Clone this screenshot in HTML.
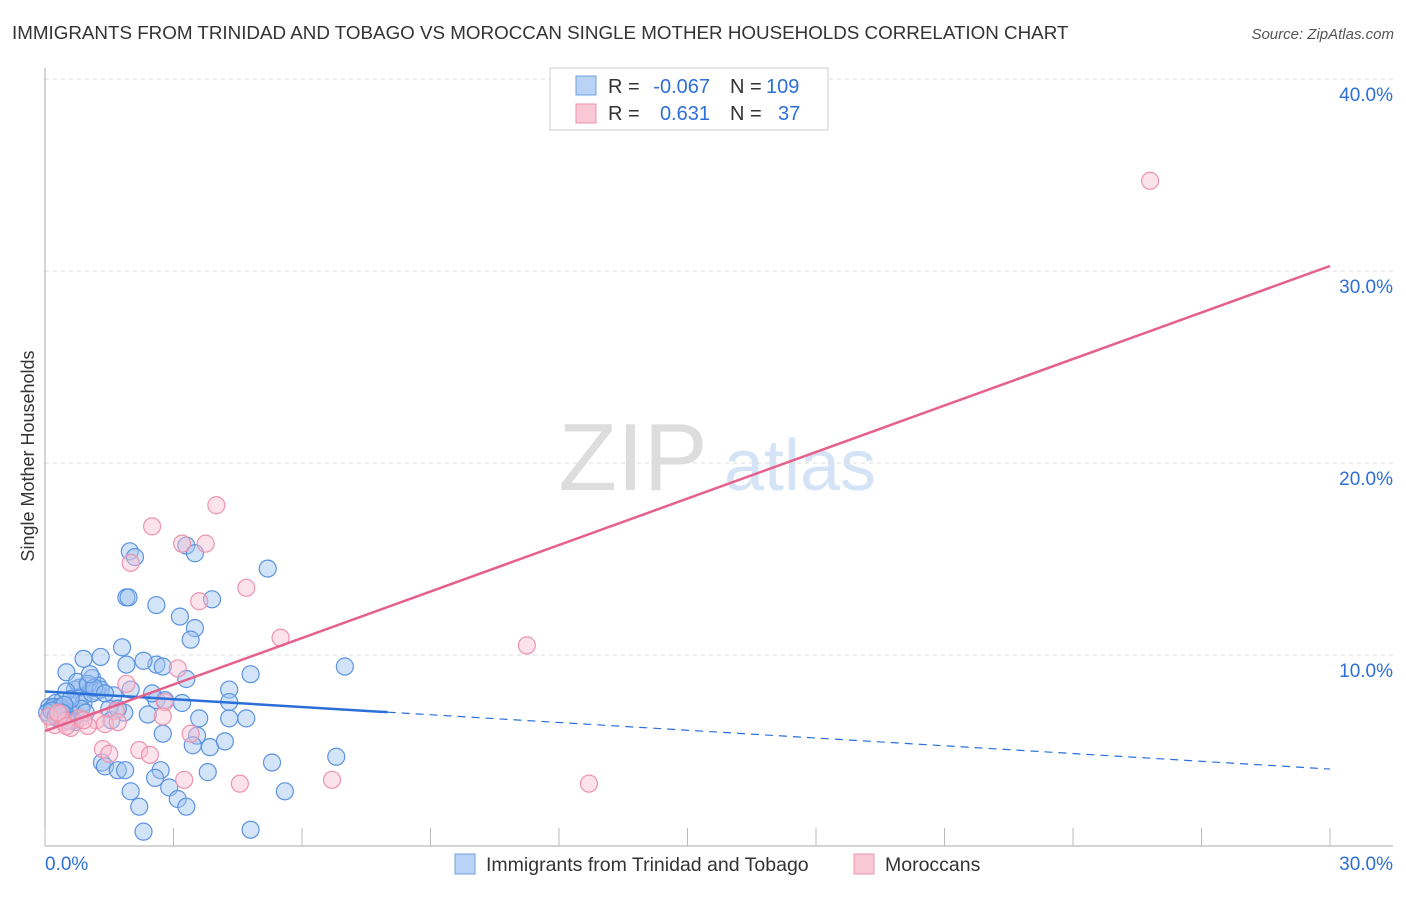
<!DOCTYPE html>
<html><head><meta charset="utf-8"><style>
body{margin:0;background:#fff;font-family:"Liberation Sans",sans-serif;}
svg text{font-family:"Liberation Sans",sans-serif;}
</style></head><body>
<svg id="c" width="1406" height="892">
<text x="12" y="39" font-size="18.8" fill="#333">IMMIGRANTS FROM TRINIDAD AND TOBAGO VS MOROCCAN SINGLE MOTHER HOUSEHOLDS CORRELATION CHART</text>
<text x="1394" y="39" font-size="15" fill="#555" font-style="italic" text-anchor="end">Source: ZipAtlas.com</text>
<text transform="translate(34,456) rotate(-90)" font-size="18" fill="#333" text-anchor="middle">Single Mother Households</text>
<g><text x="633" y="490" font-size="96" fill="#ddd" font-family="Liberation Serif" text-anchor="middle">ZIP</text><text x="800" y="490" font-size="72" fill="#d4e3f5" text-anchor="middle">atlas</text></g>
<g id="grid"></g><g id="pts"></g><g id="lines"></g>
<g>
<rect x="550" y="68" width="278" height="62" fill="#fff" stroke="#ccc"/>
<rect x="576" y="76" width="20" height="19" fill="#b8d3f5" stroke="#6fa0e0"/>
<rect x="576" y="104" width="20" height="19" fill="#f9c8d6" stroke="#ee93ae"/>
<text x="608" y="93" font-size="20" fill="#333">R =</text>
<text x="710" y="93" font-size="20" fill="#2d6fd6" text-anchor="end">-0.067</text>
<text x="730" y="93" font-size="20" fill="#333">N =</text>
<text x="766" y="93" font-size="20" fill="#2d6fd6">109</text>
<text x="608" y="120" font-size="20" fill="#333">R =</text>
<text x="710" y="120" font-size="20" fill="#2d6fd6" text-anchor="end">0.631</text>
<text x="730" y="120" font-size="20" fill="#333">N =</text>
<text x="778" y="120" font-size="20" fill="#2d6fd6">37</text>
</g>
<g>
<rect x="455" y="854" width="20" height="20" fill="#b8d3f5" stroke="#6fa0e0"/>
<text x="486" y="871" font-size="19.5" fill="#333">Immigrants from Trinidad and Tobago</text>
<rect x="854" y="854" width="20" height="20" fill="#f9c8d6" stroke="#ee93ae"/>
<text x="885" y="871" font-size="19.5" fill="#333">Moroccans</text>
</g>
</svg>
<script>
const blueX=[1.98,2.1,3.3,3.5,5.2,1.9,1.95,2.6,3.9,3.15,3.5,3.4,1.8,7.0,4.8,2.6,2.75,1.9,0.9,1.3,0.5,1.1,1.24,2.3,3.3,4.3,4.3,2.6,1.6,4.7,4.3,3.6,2.4,1.85,2.8,3.2,2.75,3.55,3.45,3.85,4.2,6.8,5.3,1.33,1.4,1.7,1.87,2.7,2.57,3.8,2.9,2.0,2.2,3.1,3.3,5.6,2.3,4.8,1.5,1.55,0.35,0.6,0.9,0.8,1.2,0.7,0.2,0.1,0.3,0.5,0.4,0.6,0.8,1.0,0.15,0.25,0.45,0.7,0.9,1.1,0.3,0.55,0.75,1.0,1.3,0.2,0.4,0.65,0.85,0.1,0.35,0.5,1.15,1.4,0.95,0.6,0.3,0.2,0.45,0.7,1.05,2.0,2.5,1.7,0.05,0.15,0.25,0.4,0.5];
const blueY=[15.4,15.1,15.7,15.3,14.5,13.0,13.0,12.6,12.9,12.0,11.4,10.8,10.4,9.4,9.0,9.5,9.4,9.5,9.8,9.9,9.1,8.8,8.4,9.7,8.75,8.2,7.55,7.65,7.9,6.7,6.7,6.7,6.9,7.0,7.65,7.5,5.9,5.8,5.3,5.2,5.5,4.7,4.4,4.4,4.2,4.0,4.0,4.0,3.6,3.9,3.1,2.9,2.1,2.5,2.1,2.9,0.8,0.9,7.2,6.6,7.2,7.4,7.9,8.3,8.1,8.2,7.0,7.3,6.9,6.8,7.6,7.0,7.8,8.4,7.2,7.5,7.1,6.9,7.5,8.0,6.7,6.6,8.6,8.5,8.2,7.3,7.1,6.6,7.2,6.8,7.3,8.1,8.3,8.0,7.0,7.7,6.9,7.1,7.4,6.5,9.0,8.2,8.0,7.2,7.0,7.1,6.8,7.0,6.6];
const pinkX=[25.8,4.0,2.5,3.2,3.75,2.0,4.7,3.6,5.5,11.25,3.1,1.9,2.8,2.75,3.4,1.35,2.2,2.45,1.5,3.25,4.55,6.7,12.7,0.23,0.45,0.8,1.2,1.65,0.35,1.0,0.1,0.6,1.4,0.3,0.9,0.5,1.7];
const pinkY=[34.7,17.8,16.7,15.8,15.8,14.8,13.5,12.8,10.9,10.5,9.3,8.5,7.55,6.8,5.9,5.1,5.05,4.8,4.85,3.5,3.3,3.5,3.3,6.35,6.5,6.7,6.6,7.1,6.9,6.3,6.8,6.2,6.4,7.0,6.6,6.3,6.5];
const yTicks=[10,20,30,40];
const yTickLabels=["10.0%","20.0%","30.0%","40.0%"];
const xTicks=[0,3,6,9,12,15,18,21,24,27,30];
const blueLine=[8.1,4.06];
const blueSolidEnd=8;
const pinkLine=[6.04,30.26];
const X=v=>45+v/30*1285, Y=v=>847-v*19.2;
const NS="http://www.w3.org/2000/svg";
function mk(t,a,p){const e=document.createElementNS(NS,t);for(const k in a)e.setAttribute(k,a[k]);p.appendChild(e);return e;}
const g=document.getElementById('grid');
yTicks.forEach((t,i)=>{
 const l=mk('line',{x1:45,x2:1393,y1:Y(t),y2:Y(t),stroke:'#ddd','stroke-dasharray':'4,4'},g);
 
 
 const tx=mk('text',{x:1393,y:Y(t)+22,'font-size':19,fill:'#2d6fd6','text-anchor':'end'},g);tx.textContent=yTickLabels[i];
 
 
});
const topGrid=mk('line',{x1:45,x2:1393,y1:79,y2:79,stroke:'#ddd','stroke-dasharray':'4,4'},g);


const yAx=mk('line',{x1:45,x2:45,y1:68,y2:846,stroke:'#aaa'},g);


const ax=mk('line',{x1:45,x2:1393,y1:846,y2:846,stroke:'#aaa'},g);


xTicks.forEach(t=>{const l=mk('line',{x1:X(t),x2:X(t),y1:828,y2:846,stroke:'#bbb'},g);
 
 });
const t0=mk('text',{x:45,y:870,'font-size':19,fill:'#2d6fd6'},g);t0.textContent='0.0%';


const t1=mk('text',{x:1393,y:870,'font-size':19,fill:'#2d6fd6','text-anchor':'end'},g);t1.textContent='30.0%';


const p=document.getElementById('pts');
blueX.forEach((x,i)=>{const c=mk('circle',{cx:X(x),cy:Y(blueY[i]),r:8.5,fill:'rgba(160,195,240,0.45)',stroke:'#5b93e0','stroke-width':1.2},p);
 
 });
pinkX.forEach((x,i)=>{const c=mk('circle',{cx:X(x),cy:Y(pinkY[i]),r:8.5,fill:'rgba(248,190,208,0.45)',stroke:'#ee93ae','stroke-width':1.2},p);
 
 });
const L=document.getElementById('lines');
const by=x=>blueLine[0]+(blueLine[1]-blueLine[0])*x/30;
const b1=mk('line',{x1:X(0),y1:Y(by(0)),x2:X(blueSolidEnd),y2:Y(by(blueSolidEnd)),stroke:'#2a6fd8','stroke-width':2.5},L);


const b2=mk('line',{x1:X(blueSolidEnd),y1:Y(by(blueSolidEnd)),x2:X(30),y2:Y(by(30)),stroke:'#2a6fd8','stroke-width':1.2,'stroke-dasharray':'8,6'},L);


const pl=mk('line',{x1:X(0),y1:Y(pinkLine[0]),x2:X(30),y2:Y(pinkLine[1]),stroke:'#e5608a','stroke-width':2.5},L);


</script>
</body></html>
